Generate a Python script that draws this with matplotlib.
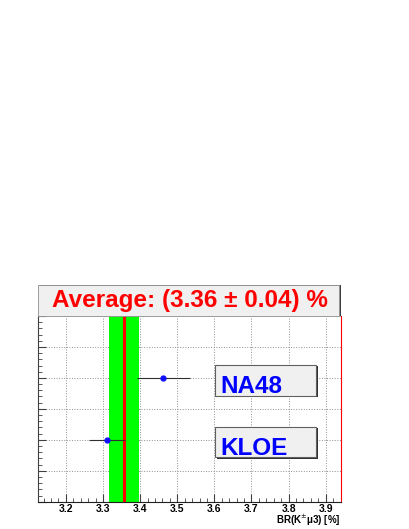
import matplotlib.pyplot as plt
import numpy as np
from matplotlib.patches import Rectangle
from matplotlib.ticker import MultipleLocator

plt.switch_backend('agg')
plt.rcParams['font.family'] = ['Liberation Sans', 'DejaVu Sans']

# measurements of BR(K+- mu3) in %
experiments = ['KLOE', 'NA48']
br = [3.310, 3.463]
br_err = [0.048, 0.072]
row = [2, 4]

avg = 3.357
avg_err = 0.04
title = 'Average: (3.36 ± 0.04) %'

fig = plt.figure(figsize=(4.09, 5.29), dpi=100)
ax = fig.add_axes([0.0929, 0.0516, 0.7408, 0.351])

ax.set_xlim(3.125, 3.941)
ax.set_ylim(0, 6)

# average band and central value
ax.axvspan(avg - avg_err, avg + avg_err, color='#00ff00', zorder=1, lw=0)
ax.axvline(avg, color='#ff0000', lw=2.2, zorder=2)

ax.errorbar(br, row, xerr=br_err, fmt='o', color='#1010ff', ms=3.5,
            ecolor='#303030', elinewidth=0.8, capsize=0, zorder=4)

# experiment labels in boxes
for name, y in zip(experiments, row):
    ax.add_patch(Rectangle((3.607, y - 0.62), 0.273, 1.0, facecolor='#303030',
                           edgecolor='none', zorder=5))
    ax.add_patch(Rectangle((3.602, y - 0.57), 0.273, 1.0, facecolor='#f0f0f0',
                           edgecolor='#606060', lw=0.8, zorder=6))
    ax.text(3.617, y - 0.49, name, color='#0000ff', fontsize=17.5,
            fontweight='bold', va='baseline', ha='left', zorder=7)

# title box on top of the frame
ax.add_patch(Rectangle((0.004, 1.0), 0.996, 0.168, transform=ax.transAxes,
                       facecolor='#404040', edgecolor='none', clip_on=False, zorder=8))
ax.add_patch(Rectangle((0.0, 1.0), 0.993, 0.166, transform=ax.transAxes,
                       facecolor='#f0f0f0', edgecolor='#909090', lw=0.6,
                       clip_on=False, zorder=9))
ax.text(0.5, 1.083, title, transform=ax.transAxes, color='#ff0000',
        fontsize=17.5, fontweight='bold', ha='center', va='center', zorder=10)

ax.xaxis.set_major_locator(MultipleLocator(0.1))
ax.xaxis.set_minor_locator(MultipleLocator(0.02))
ax.yaxis.set_major_locator(MultipleLocator(1))
ax.yaxis.set_minor_locator(MultipleLocator(0.2))
ax.set_yticklabels([])
ax.tick_params(axis='both', which='both', direction='in', top=False, right=False)
ax.tick_params(axis='both', which='major', length=6, width=0.8, color='#404040')
ax.tick_params(axis='both', which='minor', length=3, width=0.6, color='#404040')
ax.tick_params(axis='x', labelsize=7.5, pad=2)
for lab in ax.get_xticklabels():
    lab.set_fontweight('bold')
ax.grid(True, which='major', ls=':', color='#909090', lw=0.7)
ax.set_axisbelow(True)

ax.spines['right'].set_color('#ff0000')
ax.spines['top'].set_visible(False)
ax.spines['left'].set_color('#404040')
ax.spines['bottom'].set_color('#202020')

ax.set_xlabel('BR(K$^{\\pm}$μ3) [%]', fontsize=7, fontweight='bold')
ax.xaxis.set_label_coords(1.0, -0.102)
ax.xaxis.label.set_ha('right')
ax.xaxis.label.set_va('center')

plt.savefig('out.png', dpi=100)
